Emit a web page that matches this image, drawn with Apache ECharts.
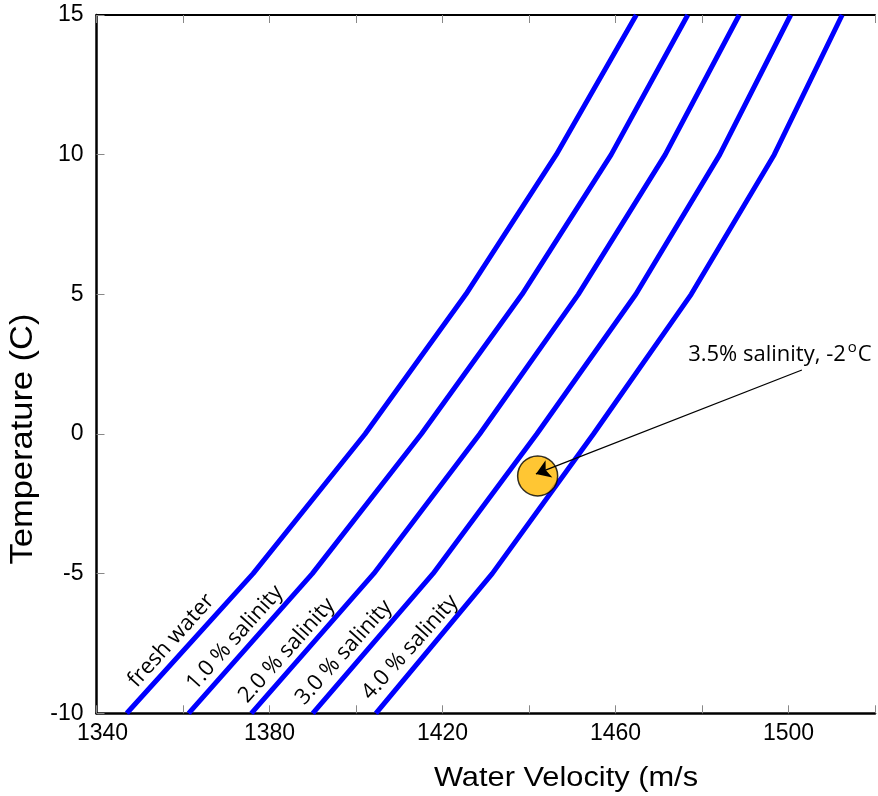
<!DOCTYPE html>
<html>
<head>
<meta charset="utf-8">
<script src="https://cdn.jsdelivr.net/npm/echarts@6/dist/echarts.min.js"></script>
<style>
html,body{margin:0;padding:0;background:#fff;}
#chart{width:878px;height:796px;}
</style>
</head>
<body>
<div id="chart"></div>
<script>
// Temperatures (C) at which velocities were read
const temps = [-10, -5, 0, 5, 10, 15];
// Water velocity (m/s) per curve
const freshWater = [1347.0, 1376.2, 1402.1, 1425.4, 1446.3, 1464.8];
const salinity1 = [1361.3, 1389.9, 1415.1, 1438.4, 1459.0, 1476.7];
const salinity2 = [1375.8, 1404.1, 1428.6, 1451.4, 1471.5, 1488.6];
const salinity3 = [1390.0, 1417.8, 1441.8, 1464.7, 1484.1, 1500.5];
const salinity4 = [1404.6, 1431.5, 1454.9, 1477.5, 1496.7, 1512.4];
const curveNames = ['fresh water', '1.0 % salinity', '2.0 % salinity', '3.0 % salinity', '4.0 % salinity'];
const curves = [freshWater, salinity1, salinity2, salinity3, salinity4];
// curve label anchors [velocity, temperature]
const labelAnchors = [[1357.3, -7.4], [1372.0, -7.3], [1384.0, -7.75], [1397.2, -7.82], [1412.5, -7.64]];
// highlighted point (3.5% salinity, -2 C)
const pointVel = 1442;
const pointTemp = -1.5;
// annotation arrow start / end and text anchor
const arrowStart = [1503.1, 2.29];
const arrowEnd = [1441.6, -1.43];
const noteAnchor = [1476.8, 2.9];

const xTickLabels = [1340, 1380, 1420, 1460, 1500];
const yTickLabels = [-10, -5, 0, 5, 10, 15];

const chart = echarts.init(document.getElementById('chart'));
const tickFont = {fontFamily: 'Liberation Sans', fontSize: 23, color: '#000'};

const series = curves.map((vals, i) => ({
  type: 'line',
  name: curveNames[i],
  data: temps.map((t, j) => [vals[j], t]),
  showSymbol: false,
  symbol: 'none',
  lineStyle: {color: '#0000ff', width: 5},
  itemStyle: {color: '#0000ff'},
  clip: true,
  animation: false,
  z: 2
}));
series.push({
  type: 'scatter',
  data: [[pointVel, pointTemp]],
  symbolSize: 40,
  itemStyle: {color: '#FFB800', borderColor: '#000', borderWidth: 1.5},
  animation: false,
  z: 3
});
series.push({
  type: 'lines',
  coordinateSystem: 'cartesian2d',
  data: [{coords: [arrowStart, arrowEnd]}],
  symbol: ['none', 'arrow'],
  symbolSize: [9, 14],
  lineStyle: {color: '#000', width: 1.3, opacity: 1},
  animation: false,
  z: 4
});

chart.setOption({
  animation: false,
  backgroundColor: '#fff',
  grid: {left: 96.5, right: -6, top: 15, bottom: 82.7, containLabel: false},
  xAxis: [{
    type: 'value', position: 'bottom', min: 1340, max: 1520, interval: 20,
    axisLine: {show: true, onZero: false, lineStyle: {color: '#000', width: 2.5}},
    axisTick: {show: true, inside: true, length: 8, lineStyle: {color: '#888', width: 1}},
    splitLine: {show: false},
    axisLabel: {
      ...tickFont, margin: 9,
      formatter: v => xTickLabels.indexOf(v) < 0 ? '' : (v === 1340 ? '{f|' + v + '}' : String(v)),
      rich: {f: {fontFamily: 'Liberation Sans', fontSize: 23, color: '#000', padding: [0, 0, 0, 12]}}
    }
  }, {
    type: 'value', position: 'top', min: 1340, max: 1520, interval: 20,
    axisLine: {show: true, onZero: false, lineStyle: {color: '#000', width: 2}},
    axisTick: {show: true, inside: true, length: 8, lineStyle: {color: '#888', width: 1}},
    splitLine: {show: false},
    axisLabel: {show: false}
  }],
  yAxis: [{
    type: 'value', min: -10, max: 15, interval: 5,
    axisLine: {show: true, onZero: false, lineStyle: {color: '#000', width: 2.5}},
    axisTick: {show: true, inside: true, length: 8, lineStyle: {color: '#888', width: 1}},
    splitLine: {show: false},
    axisLabel: {...tickFont, margin: 13, formatter: v => yTickLabels.indexOf(v) < 0 ? '' : String(v)}
  }],
  series: series
});

function px(p) { return chart.convertToPixel({xAxisIndex: 0, yAxisIndex: 0}, p); }

const graphics = [];
curveNames.forEach((name, i) => {
  const p = px(labelAnchors[i]);
  graphics.push({
    type: 'text', x: p[0], y: p[1], rotation: 48 * Math.PI / 180,
    style: {text: name, fontFamily: 'Open Sans', fontSize: 22, fill: '#000', align: 'center', verticalAlign: 'middle'},
    z: 10
  });
});
const np = px(noteAnchor);
graphics.push({
  type: 'text', x: np[0], y: np[1],
  style: {
    text: '{m|3.5% salinity, -2}{s|o}{m|C}',
    align: 'left', verticalAlign: 'middle',
    rich: {
      m: {fontFamily: 'Open Sans', fontSize: 22, fill: '#000', lineHeight: 26, verticalAlign: 'bottom'},
      s: {fontFamily: 'Open Sans', fontSize: 15, fill: '#000', lineHeight: 14, verticalAlign: 'top', padding: [0, 1, 0, 2]}
    }
  },
  z: 10
});
graphics.push({
  type: 'text', x: 566, y: 778, scaleX: 1.12,
  style: {text: 'Water Velocity (m/s', fontFamily: 'Liberation Sans', fontSize: 27.5, fill: '#000', align: 'center', verticalAlign: 'middle'}
});
graphics.push({
  type: 'text', x: 24, y: 439, rotation: Math.PI / 2, scaleX: 1.13,
  style: {text: 'Temperature (C)', fontFamily: 'Liberation Sans', fontSize: 30.5, fill: '#000', align: 'center', verticalAlign: 'middle'}
});
chart.setOption({graphic: graphics});
</script>
</body>
</html>
